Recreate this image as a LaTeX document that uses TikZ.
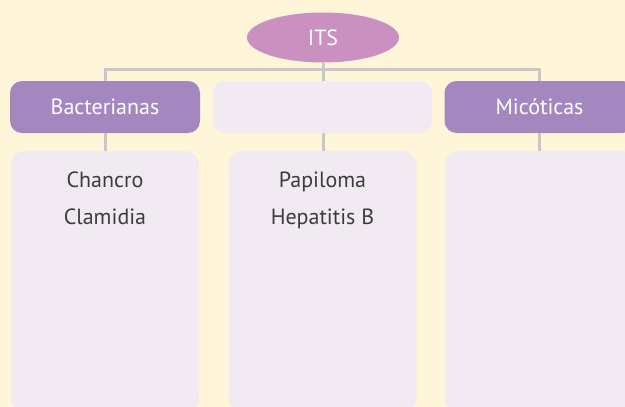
\documentclass[tikz,border=0pt]{standalone}
\usepackage{fontspec}
\setmainfont{PT Sans}
\usetikzlibrary{positioning,shapes.geometric}
\pgfdeclarelayer{bg}
\pgfdeclarelayer{lines}
\pgfsetlayers{bg,lines,main}
\definecolor{cream}{HTML}{FFF5D9}
\definecolor{orchid}{HTML}{C990C0}
\definecolor{lilac}{HTML}{A387BE}
\definecolor{pale}{HTML}{F1EAF2}
\definecolor{wire}{HTML}{C8C8C8}
\definecolor{ink}{HTML}{3C3C3C}

\begin{document}
\begin{tikzpicture}[x=1pt,y=-1pt,font=\fontsize{22}{37}\selectfont,
root/.style={ellipse,fill=orchid,text=white,minimum width=152pt,minimum height=50pt,inner sep=0pt},
cat/.style={rounded corners=12pt,fill=lilac,text=white,minimum width=190pt,minimum height=52pt,inner sep=0pt},
blank/.style={cat,fill=pale,minimum width=219pt},
listbox/.style={rounded corners=14pt,fill=pale,minimum width=188pt,minimum height=261pt,inner sep=0pt},
listtext/.style={align=center,text=ink,inner sep=0pt,anchor=north},
link/.style={draw=wire,line width=3pt}]
\begin{pgfonlayer}{bg}
\fill[cream] (0,0) rectangle (625,407);
\end{pgfonlayer}
\useasboundingbox (0,0) rectangle (625,407);
\node[root] (its) at (323,37.5) {ITS};
\coordinate (bar) at (323,69);
\node[cat] (bact) at (105,107) {Bacterianas};
\node[blank] (vir) at (322.5,107) {};
\node[cat] (mic) at (539.5,107) {Micóticas};
\node[listbox] (bactlist) at (105,281.5) {};
\node[listbox] (virlist) at (322.5,281.5) {};
\node[listbox,minimum width=190pt] (miclist) at (539.5,281.5) {};
\node[listtext] (bacttext) at ([yshift=-21pt]bactlist.north) {Chancro\\Clamidia};
\node[listtext] (virtext) at ([yshift=-21pt]virlist.north) {Papiloma\\Hepatitis B};
\begin{pgfonlayer}{lines}
\draw[link] (bactlist.north) |- (bar) -| (miclist.north);
\draw[link] (its.south) -- (its.south |- virlist.north);
\end{pgfonlayer}
\end{tikzpicture}
\end{document}
